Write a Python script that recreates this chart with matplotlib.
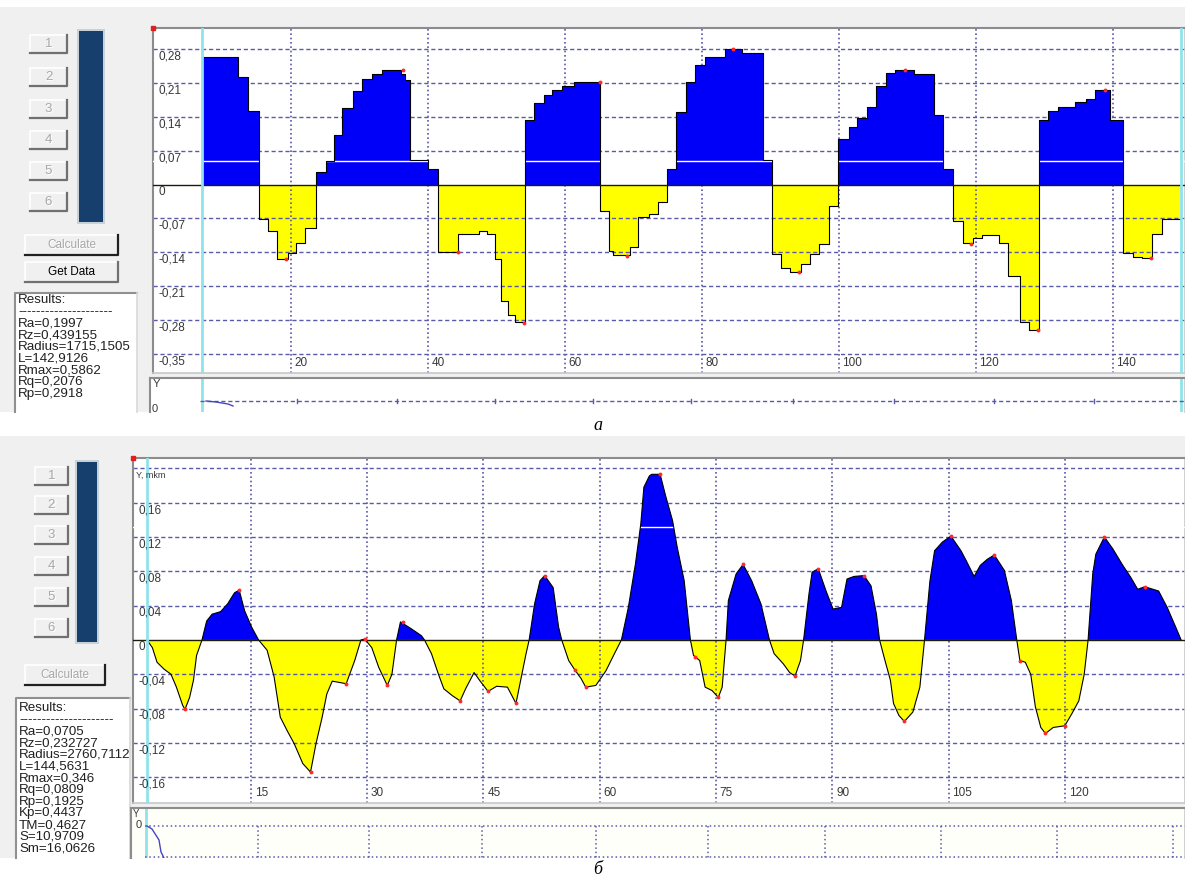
import matplotlib.pyplot as plt
import numpy as np
from matplotlib.patches import Rectangle

plt.rcParams['font.family'] = ['Liberation Sans', 'DejaVu Sans']

W, H = 1185, 884

# ---- profile a (stepped), mkm: step start positions and levels
top_x = [7.0, 12.3, 13.7, 15.3, 16.7, 18.0, 19.5, 20.7, 22.0, 23.6, 25.1, 26.2, 27.5, 29.0,
         30.3, 31.8, 33.3, 36.0, 36.7, 37.3, 40.0, 41.4, 44.4, 47.4, 48.6, 49.8, 50.6, 51.6,
         52.7, 54.1, 55.4, 56.9, 58.1, 59.6, 61.3, 65.1, 66.4, 67.0, 69.5, 70.7, 72.2, 73.5,
         74.9, 76.2, 77.6, 78.9, 80.5, 83.4, 85.9, 88.9, 90.2, 91.5, 92.8, 94.5, 95.8, 97.1,
         98.5, 99.8, 101.4, 102.6, 104.1, 105.4, 106.8, 108.2, 111.0, 113.8, 115.2, 116.6,
         118.1, 119.6, 120.9, 123.4, 124.7, 126.4, 127.7, 129.2, 130.5, 132.0, 134.4, 136.0,
         137.3, 139.6, 141.4, 142.9, 144.2, 145.7, 147.2]
top_y = [0.265, 0.222, 0.152, -0.071, -0.096, -0.155, -0.141, -0.120, -0.089, 0.026, 0.049,
         0.102, 0.159, 0.194, 0.218, 0.229, 0.238, 0.229, 0.216, 0.050, 0.033, -0.139, -0.103,
         -0.096, -0.103, -0.155, -0.241, -0.269, -0.284, 0.133, 0.169, 0.185, 0.195, 0.204,
         0.213, -0.054, -0.137, -0.145, -0.130, -0.068, -0.061, -0.037, 0.033, 0.150, 0.213,
         0.247, 0.265, 0.280, 0.273, 0.050, -0.144, -0.172, -0.180, -0.165, -0.144, -0.123,
         -0.044, 0.095, 0.119, 0.137, 0.161, 0.204, 0.231, 0.238, 0.229, 0.143, 0.033, -0.075,
         -0.120, -0.111, -0.105, -0.120, -0.189, -0.284, -0.300, 0.134, 0.152, 0.161, 0.171,
         0.178, 0.195, 0.134, -0.141, -0.150, -0.153, -0.103, -0.071]
top_end = 149.8
top_pk_x = [19.3, 36.3, 44.4, 54.0, 65.1, 69.0, 84.5, 94.1, 109.6, 119.2, 129.0, 138.8, 145.6]
top_pk_y = [-0.155, 0.237, -0.139, -0.286, 0.213, -0.148, 0.280, -0.180, 0.238, -0.122,
            -0.300, 0.195, -0.153]
top_yticks = [0.28, 0.21, 0.14, 0.07, 0, -0.07, -0.14, -0.21, -0.28, -0.35]
top_xticks = [20, 40, 60, 80, 100, 120, 140]
top_mean = 0.048
top_results = ["Results:", "---------------------", "Ra=0,1997", "Rz=0,439155",
               "Radius=1715,1505", "L=142,9126", "Rmax=0,5862", "Rq=0,2076", "Rp=0,2918"]

# ---- profile б, mkm
bot_x = [1.6, 2.3, 2.9, 3.8, 4.7, 5.4, 6.2, 6.5, 7.1, 7.6, 8.0, 8.7, 9.3, 10.0, 11.1, 12.0,
         12.9, 13.5, 14.2, 15.1, 16.0, 17.1, 18.0, 18.8, 19.7, 20.6, 21.7, 22.7, 23.4, 24.2,
         24.8, 25.5, 27.3, 28.4, 29.2, 29.7, 30.6, 31.5, 32.6, 33.2, 33.8, 34.3, 35.7, 37.0,
         37.4, 38.3, 39.2, 39.9, 41.0, 42.0, 42.7, 43.8, 44.5, 45.6, 46.7, 48.1, 49.2, 49.8,
         50.5, 50.9, 51.6, 52.3, 52.9, 54.0, 54.7, 55.1, 56.0, 56.8, 57.6, 58.2, 59.5, 60.8,
         61.9, 62.8, 63.7, 64.6, 65.3, 65.7, 66.4, 66.7, 67.8, 68.5, 69.4, 70.0, 70.9, 71.7,
         72.1, 72.9, 73.6, 74.5, 75.3, 75.8, 76.3, 76.6, 77.6, 78.5, 79.6, 80.8, 81.9, 82.5,
         83.7, 84.5, 85.2, 85.9, 86.3, 87.0, 87.4, 88.2, 89.2, 90.1, 91.2, 91.9, 92.8, 94.1,
         95.0, 95.7, 96.1, 96.8, 97.5, 97.9, 98.6, 99.3, 100.4, 101.3, 101.9, 102.6, 103.2,
         104.2, 105.3, 106.6, 107.3, 108.3, 109.1, 110.0, 110.9, 112.2, 113.1, 113.8, 114.2,
         114.9, 115.6, 116.2, 116.9, 117.5, 118.5, 120.0, 120.9, 121.8, 122.5, 123.0, 123.6,
         124.0, 125.1, 126.2, 127.4, 128.5, 129.4, 130.3, 132.1, 133.2, 134.3, 135.0]
bot_y = [0.0, -0.009, -0.026, -0.034, -0.040, -0.055, -0.076, -0.081, -0.067, -0.047, -0.018,
         0.0, 0.022, 0.030, 0.033, 0.042, 0.055, 0.058, 0.034, 0.015, 0.0, -0.012, -0.043,
         -0.090, -0.106, -0.121, -0.144, -0.154, -0.121, -0.090, -0.063, -0.048, -0.051,
         -0.024, 0.0, 0.001, -0.009, -0.032, -0.053, -0.040, 0.0, 0.021, 0.013, 0.005, 0.0,
         -0.016, -0.040, -0.057, -0.065, -0.071, -0.057, -0.038, -0.047, -0.060, -0.054,
         -0.055, -0.074, -0.047, -0.016, 0.0, 0.042, 0.069, 0.075, 0.061, 0.015, 0.0, -0.024,
         -0.035, -0.045, -0.055, -0.053, -0.036, -0.016, 0.0, 0.038, 0.088, 0.135, 0.178,
         0.191, 0.193, 0.193, 0.168, 0.139, 0.108, 0.069, 0.0, -0.018, -0.024, -0.055, -0.059,
         -0.067, -0.055, 0.0, 0.046, 0.077, 0.088, 0.069, 0.042, 0.0, -0.016, -0.028, -0.038,
         -0.042, -0.024, 0.0, 0.054, 0.079, 0.083, 0.057, 0.036, 0.038, 0.071, 0.074, 0.075,
         0.063, 0.030, 0.0, -0.024, -0.047, -0.074, -0.088, -0.095, -0.084, -0.055, 0.0,
         0.069, 0.104, 0.114, 0.121, 0.104, 0.092, 0.074, 0.087, 0.094, 0.099, 0.081, 0.046,
         0.0, -0.024, -0.026, -0.040, -0.078, -0.102, -0.109, -0.102, -0.100, -0.086, -0.071,
         -0.040, 0.0, 0.077, 0.100, 0.120, 0.106, 0.088, 0.073, 0.059, 0.062, 0.057, 0.038,
         0.015, 0.0]
bot_pk_x = [6.5, 13.5, 22.7, 27.3, 29.7, 32.6, 34.6, 42.0, 45.6, 49.2, 52.9, 56.8, 58.2, 67.8,
            72.3, 75.3, 78.5, 85.2, 88.2, 94.1, 99.3, 105.3, 110.9, 114.2, 117.5, 120.0,
            125.1, 130.3]
bot_pk_y = [-0.081, 0.058, -0.154, -0.051, 0.001, -0.053, 0.021, -0.071, -0.060, -0.074,
            0.075, -0.035, -0.055, 0.193, -0.020, -0.067, 0.088, -0.042, 0.083, 0.075, -0.095,
            0.121, 0.099, -0.024, -0.109, -0.100, 0.120, 0.062]
bot_yticks = [0.16, 0.12, 0.08, 0.04, 0, -0.04, -0.08, -0.12, -0.16]
bot_xticks = [15, 30, 45, 60, 75, 90, 105, 120]
bot_mean = 0.132
bot_results = ["Results:", "---------------------", "Ra=0,0705", "Rz=0,232727",
               "Radius=2760,7112", "L=144,5631", "Rmax=0,346", "Rq=0,0809", "Rp=0,1925",
               "Kp=0,4437", "TM=0,4627", "S=10,9709", "Sm=16,0626"]

BLUE, YELLOW, GRID = '#0000f8', '#ffff00', '#5a5aa8'


def px_rect(x0, y0, x1, y1):
    return [x0 / W, 1 - y1 / H, (x1 - x0) / W, (y1 - y0) / H]


def fmt(v):
    return "0" if v == 0 else f"{v:.2f}".replace('.', ',')


fig = plt.figure(figsize=(W / 100, H / 100), dpi=100)
bg = fig.add_axes([0, 0, 1, 1], zorder=0)
bg.set_xlim(0, W)
bg.set_ylim(H, 0)
bg.axis('off')

# grey window backgrounds
bg.add_patch(Rectangle((0, 7), W, 405, fc='#f0f0f0', ec='none'))
bg.add_patch(Rectangle((0, 436), W, 422, fc='#f0f0f0', ec='none'))


def button(x0, y0, x1, y1, label, tcolor, disabled=False, fs=9, dark='#707070'):
    bg.add_patch(Rectangle((x0, y0), x1 - x0, y1 - y0, fc='#f0f0f0', ec='none'))
    bg.plot([x0, x0, x1], [y1, y0, y0], color='white', lw=1.2)
    bg.plot([x0, x1, x1], [y1, y1, y0], color=dark, lw=1.6)
    cx, cy = (x0 + x1) / 2, (y0 + y1) / 2
    if disabled:
        bg.text(cx + 1, cy + 1, label, color='white', fontsize=fs, ha='center', va='center')
    bg.text(cx, cy, label, color=tcolor, fontsize=fs, ha='center', va='center')


def left_panel(btn_x, btn_tops, bar, calc, getdata, box, lines, line_y0):
    for i, t in enumerate(btn_tops):
        button(btn_x[0], t, btn_x[1], t + 18, str(i + 1), '#a8a8a8', True, fs=9.5)
    bx0, by0, bx1, by1 = bar
    bg.add_patch(Rectangle((bx0 - 2, by0 - 2), bx1 - bx0 + 4, by1 - by0 + 4, fc='#c8d0d8', ec='none'))
    bg.add_patch(Rectangle((bx0, by0), bx1 - bx0, by1 - by0, fc='#173f6d', ec='none'))
    button(*calc, "Calculate", '#a8a8a8', True, fs=8.5, dark='#202020')
    if getdata:
        button(*getdata, "Get Data", 'black', False, fs=8.5)
    x0, y0, x1, y1 = box
    r = Rectangle((x0, y0), x1 - x0, y1 - y0, fc='white', ec='none')
    bg.add_patch(r)
    bg.plot([x0, x0, x1], [y1, y0, y0], color='#909090', lw=1.5)
    bg.plot([x1, x1], [y0, y1], color='#d8d8d8', lw=1.2)
    for k, s in enumerate(lines):
        t = bg.text(x0 + 3, line_y0 + k * 11.7, s, fontsize=9.6, color='#202020', va='center')
        t.set_clip_path(r)


left_panel((30, 67), [35, 68, 100, 131, 162, 193], (79, 31, 103, 222), (25, 235, 118, 255),
           (25, 262, 118, 282), (15, 293, 137, 412), top_results, 300)
left_panel((35, 68), [467, 496, 526, 557, 588, 619], (77, 462, 97, 642), (25, 665, 105, 685),
           None, (16, 698, 130, 858), bot_results, 708)

# captions
bg.text(598, 425, "а", fontsize=13, style='italic', family='Liberation Serif', ha='center', va='center')
bg.text(598, 869, "б", fontsize=13, style='italic', family='Liberation Serif', ha='center', va='center')


def style_frame(ax):
    ax.set_xticks([])
    ax.set_yticks([])
    for s in ['left', 'top']:
        ax.spines[s].set_color('#8c8c8c')
        ax.spines[s].set_linewidth(1.5)
    for s in ['right', 'bottom']:
        ax.spines[s].set_color('#c8c8c8')
        ax.spines[s].set_linewidth(1.2)


def chart(rect, xlim, ylim, hgrid, xticks, yticks, cyan, mean):
    ax = fig.add_axes(rect, zorder=2)
    ax.set_xlim(*xlim)
    ax.set_ylim(*ylim)
    style_frame(ax)
    for v in hgrid:
        if v != 0:
            ax.axhline(v, color=GRID, lw=1, ls=(0, (3, 2)), zorder=2)
    for v in xticks:
        ax.axvline(v, color=GRID, lw=1.2, ls=(0, (1, 1.6)), zorder=2)
    for v in yticks:
        ax.text(0.005, v - 0.004 * (ylim[1] - ylim[0]), fmt(v), transform=ax.get_yaxis_transform(),
                va='top', ha='left', fontsize=8.5, color='#383838', zorder=7)
    for v in xticks:
        ax.text(v + 0.5, 0.012, str(v), transform=ax.get_xaxis_transform(),
                va='bottom', ha='left', fontsize=8.5, color='#383838', zorder=7)
    ax.axhline(mean, color='white', lw=1, zorder=3.5)
    for c in cyan:
        ax.axvline(c, color='#8fe3ea', lw=2, zorder=5)
    ax.plot([xlim[0]], [ylim[1]], 's', ms=3, color='#e02020', clip_on=False, zorder=8)
    return ax


# ---- chart a
axa = chart(px_rect(153, 28, 1185, 373), (-0.15, 150.5), (-0.39, 0.324), top_yticks,
            top_xticks, top_yticks, [7.0, 149.9], top_mean)
xs = np.array(top_x + [top_end])
ys = np.array(top_y + [top_y[-1]])
axa.fill_between(xs, np.minimum(ys, 0), 0, step='post', color=YELLOW, lw=0, zorder=1)
axa.fill_between(xs, np.maximum(ys, 0), 0, step='post', color=BLUE, lw=0, zorder=3)
axa.step(xs, ys, where='post', color='black', lw=0.8, zorder=4)
axa.axhline(0, color='#1c1c08', lw=1, zorder=4.5)
axa.plot(top_pk_x, top_pk_y, 'o', ms=2.8, color='#ff2a2a', mec='none', zorder=6)

# ---- chart б
axb = chart(px_rect(133, 458, 1185, 803), (-0.2, 135.5), (-0.19, 0.212), bot_yticks + [0.2],
            bot_xticks, bot_yticks, [1.6], bot_mean)
bx = np.array(bot_x)
by = np.array(bot_y)
axb.fill_between(bx, by, 0, where=by <= 0, interpolate=True, color=YELLOW, lw=0, zorder=1)
axb.fill_between(bx, by, 0, where=by >= 0, interpolate=True, color=BLUE, lw=0, zorder=3)
axb.plot(bx, by, color='black', lw=0.8, zorder=4)
axb.axhline(0, color='#1c1c08', lw=1, zorder=4.5)
axb.plot(bot_pk_x, bot_pk_y, 'o', ms=2.8, color='#ff2a2a', mec='none', zorder=6)
axb.text(0.003, 0.197, "Y, mkm", transform=axb.get_yaxis_transform(), va='top', ha='left',
         fontsize=6.5, color='#383838', zorder=7)

# ---- lower strips (cut off at the window edge)
strip_a_ticks = [297, 397, 495, 593, 691, 793, 894, 994, 1094]
sa = fig.add_axes(px_rect(150, 378, 1185, 412), zorder=2)
sa.set_xlim(150, 1185)
sa.set_ylim(412, 378)
style_frame(sa)
sa.spines['bottom'].set_visible(False)
sa.axvline(202, color='#8fe3ea', lw=2)
sa.axvline(1181, color='#8fe3ea', lw=2)
sa.plot([200, 1185], [401, 401], color=GRID, lw=1, ls=(0, (3, 2)))
for t in strip_a_ticks:
    sa.plot([t, t], [399, 403], color=GRID, lw=1)
sa.plot([206, 216, 228, 233], [401, 402, 404, 406], color='#4545c0', lw=1)
sa.text(153, 379, "Y", fontsize=8, va='top', color='#383838')
sa.text(152, 404, "0", fontsize=8, va='top', color='#383838', clip_on=True)

strip_b_ticks = [258, 369, 482, 596, 708, 825, 941, 1057, 1173]
sb = fig.add_axes(px_rect(131, 808, 1185, 858), zorder=2)
sb.set_xlim(131, 1185)
sb.set_ylim(858, 808)
sb.set_facecolor('#fffffa')
style_frame(sb)
sb.spines['bottom'].set_visible(False)
sb.axvline(146, color='#8fe3ea', lw=2)
for yy in [826, 857]:
    sb.plot([145, 1185], [yy, yy], color=GRID, lw=1.1, ls=(0, (1, 1.8)))
for t in strip_b_ticks:
    sb.plot([t, t], [826, 858], color=GRID, lw=1.1, ls=(0, (1, 1.8)))
sb.plot([147, 152, 159, 161, 164], [826, 829, 840, 852, 858], color='#4545c0', lw=1)
sb.text(133, 809, "Y", fontsize=7, va='top', color='#383838')
sb.text(136, 820, "0", fontsize=8, va='top', color='#383838')

fig.savefig("out.png", dpi=100)
